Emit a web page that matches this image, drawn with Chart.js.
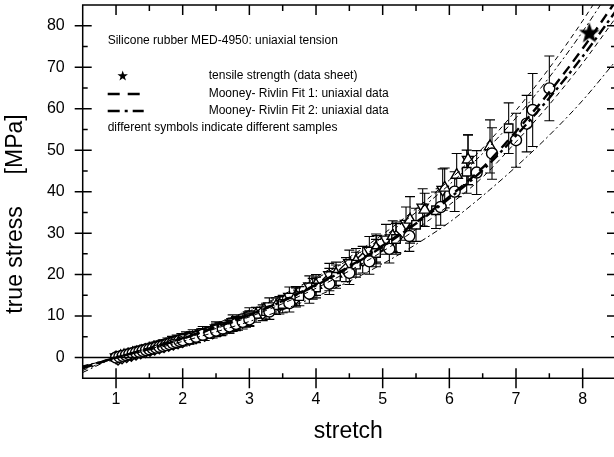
<!DOCTYPE html>
<html>
<head>
<meta charset="utf-8">
<script src="https://cdn.jsdelivr.net/npm/chart.js@4.4.0/dist/chart.umd.min.js"></script>
<style>
  html, body { margin: 0; padding: 0; background: #fff; overflow: hidden; }
  #wrap { width: 614px; height: 457px; overflow: hidden; }
</style>
</head>
<body>
<div id="wrap"><canvas id="stressChart" width="618" height="457"></canvas></div>
<script>
// axis ticks
const stretchTicks = [1, 2, 3, 4, 5, 6, 7, 8];
const stressTicks = [0, 10, 20, 30, 40, 50, 60, 70, 80];

// measured samples (stretch, true stress, error)
const circX = [1.0, 1.05, 1.1, 1.15, 1.2, 1.25, 1.3, 1.35, 1.4, 1.45, 1.5, 1.55, 1.6, 1.65, 1.7, 1.75, 1.8, 1.85, 1.9, 1.95, 2.0, 2.1, 2.2, 2.3, 2.4, 2.5, 2.6, 2.7, 2.8, 2.9, 3.0, 3.3, 3.6, 3.9, 4.2, 4.5, 4.8, 5.1, 5.4, 5.87, 6.08, 6.41, 6.64, 7.0, 7.16, 7.25, 7.5];
const circY = [0.0, 0.2, 0.4, 0.6, 0.8, 1.0, 1.2, 1.4, 1.6, 1.8, 2.0, 2.2, 2.4, 2.6, 2.8, 3.0, 3.25, 3.5, 3.75, 4.0, 4.2, 4.6, 5.0, 5.5, 6.0, 6.5, 7.0, 7.5, 8.1, 8.6, 9.2, 11.1, 13.1, 15.4, 17.8, 20.4, 23.2, 26.2, 29.3, 36.3, 40.0, 44.6, 49.2, 52.4, 56.4, 59.7, 64.9];
const circE = [0.8, 0.8, 0.8, 0.9, 0.9, 0.9, 0.9, 0.9, 1.0, 1.0, 1.0, 1.0, 1.0, 1.1, 1.1, 1.1, 1.1, 1.2, 1.2, 1.2, 1.2, 1.3, 1.3, 1.4, 1.4, 1.5, 1.5, 1.6, 1.6, 1.7, 1.7, 1.9, 2.1, 2.3, 2.6, 2.8, 3.1, 3.4, 3.7, 4.4, 4.8, 5.3, 6.2, 6.5, 6.8, 8.8, 7.8];

const sqX = [1.02, 1.08, 1.14, 1.2, 1.26, 1.32, 1.38, 1.44, 1.5, 1.56, 1.62, 1.68, 1.74, 1.8, 1.86, 1.92, 1.98, 2.05, 2.25, 2.5, 2.75, 3.0, 3.25, 3.5, 3.75, 4.0, 4.3, 4.6, 4.9, 5.2, 5.5, 5.8, 6.26, 6.89];
const sqY = [0.1, 0.4, 0.6, 0.9, 1.1, 1.4, 1.6, 1.8, 2.1, 2.3, 2.6, 2.8, 3.1, 3.4, 3.6, 3.9, 4.2, 4.5, 5.4, 6.6, 7.9, 9.5, 11.2, 12.9, 14.8, 16.9, 19.5, 22.4, 25.2, 28.6, 32.0, 35.5, 44.8, 55.3];
const sqE = [0.8, 0.8, 0.9, 0.9, 0.9, 0.9, 1.0, 1.0, 1.0, 1.0, 1.1, 1.1, 1.1, 1.1, 1.2, 1.2, 1.2, 1.3, 1.3, 1.5, 1.6, 1.8, 1.9, 2.1, 2.3, 2.5, 2.8, 3.0, 3.3, 3.7, 4.0, 4.4, 5.2, 6.1];

const triX = [1.0, 1.07, 1.12, 1.18, 1.25, 1.31, 1.38, 1.44, 1.5, 1.57, 1.65, 1.72, 1.8, 1.87, 1.95, 2.1, 2.3, 2.55, 2.8, 3.1, 3.4, 3.7, 4.0, 4.3, 4.6, 4.9, 5.15, 5.41, 5.63, 5.93, 6.11, 6.28, 6.61];
const triY = [0.0, 0.3, 0.5, 0.7, 1.0, 1.2, 1.5, 1.7, 2.0, 2.3, 2.6, 2.9, 3.3, 3.6, 4.0, 4.7, 5.6, 6.9, 8.3, 10.3, 12.4, 14.8, 17.5, 20.2, 23.2, 26.4, 29.3, 33.2, 35.6, 40.9, 44.0, 47.7, 50.9];
const triE = [0.8, 0.8, 0.8, 0.9, 0.9, 0.9, 0.9, 1.0, 1.0, 1.0, 1.1, 1.1, 1.1, 1.2, 1.2, 1.3, 1.4, 1.5, 1.6, 1.8, 2.0, 2.3, 2.5, 2.8, 3.1, 3.4, 3.7, 5.6, 4.0, 4.8, 5.2, 6.0, 6.4];

const triDnX = [1.0, 1.07, 1.14, 1.21, 1.28, 1.35, 1.42, 1.49, 1.56, 1.63, 1.7, 1.77, 1.84, 1.91, 1.98, 2.05, 2.15, 2.3, 2.5, 2.75, 3.0, 3.3, 3.6, 3.9, 4.2, 4.5, 4.8, 5.05, 5.35, 5.6, 5.9, 6.28];
const triDnY = [0.1, 0.5, 0.8, 1.1, 1.4, 1.7, 2.0, 2.3, 2.6, 2.9, 3.2, 3.5, 3.9, 4.2, 4.5, 4.9, 5.4, 6.1, 7.1, 8.6, 10.2, 12.4, 14.7, 17.2, 19.9, 22.8, 25.8, 28.5, 32.3, 36.2, 40.5, 47.7];
const triDnE = [0.8, 0.8, 0.9, 0.9, 0.9, 1.0, 1.0, 1.0, 1.1, 1.1, 1.1, 1.2, 1.2, 1.2, 1.3, 1.3, 1.3, 1.4, 1.5, 1.7, 1.8, 2.0, 2.3, 2.5, 2.8, 3.1, 3.4, 3.6, 4.0, 4.5, 5.0, 6.0];

const diaX = [1.03, 1.09, 1.16, 1.23, 1.3, 1.37, 1.44, 1.51, 1.58, 1.65, 1.72, 1.79, 1.86, 1.93, 2.0, 2.1, 2.2, 2.33, 2.45, 2.58, 2.7, 2.83, 2.95, 3.2, 3.45, 3.7, 3.95, 4.2, 4.45, 4.7, 4.91, 5.2];
const diaY = [-0.2, 0.1, 0.4, 0.7, 1.0, 1.3, 1.6, 1.9, 2.2, 2.5, 2.8, 3.1, 3.4, 3.7, 4.0, 4.5, 4.9, 5.5, 6.1, 6.8, 7.4, 8.2, 9.0, 10.8, 12.6, 14.5, 16.6, 18.8, 21.2, 23.6, 26.0, 29.0];
const diaE = [0.8, 0.8, 0.8, 0.9, 0.9, 0.9, 1.0, 1.0, 1.0, 1.1, 1.1, 1.1, 1.1, 1.2, 1.2, 1.3, 1.3, 1.4, 1.4, 1.5, 1.5, 1.6, 1.7, 1.9, 2.1, 2.3, 2.5, 2.7, 2.9, 3.2, 3.4, 3.7];

// tensile strength from data sheet
const strengthX = [8.1];
const strengthY = [78.4];

// Mooney-Rivlin fits and their bounds
const fitX = [0.5, 1, 1.5, 2, 2.5, 3, 3.5, 4, 4.5, 5, 5.5, 6, 6.5, 7, 7.5, 8, 8.5];
const fit1 = [-2.6, 0, 2.2, 4.7, 7.4, 10.3, 13.7, 17.6, 22.0, 27.0, 32.6, 38.8, 45.8, 54.5, 64.0, 74.5, 86.0];
const fit1Upper = [-2.1, 0, 2.5, 5.2, 8.2, 11.4, 15.1, 19.4, 24.2, 29.7, 35.9, 42.8, 50.5, 59.6, 69.8, 81.2, 93.8];
const fit1Lower = [-3.1, 0, 2.0, 4.4, 7.0, 9.8, 13.0, 16.7, 20.9, 25.6, 30.9, 36.8, 43.5, 52.0, 61.0, 71.0, 82.0];
const fit2 = [-2.4, 0, 2.1, 4.6, 7.3, 10.2, 13.6, 17.4, 21.8, 26.8, 32.3, 38.4, 45.2, 53.5, 62.6, 72.6, 83.6];
const fit2Upper = [-2.0, 0, 2.4, 5.1, 8.0, 11.2, 14.8, 19.0, 23.7, 29.0, 35.0, 41.7, 49.2, 57.8, 67.6, 78.6, 90.8];
const fit2Lower = [-3.6, 0, 1.8, 3.9, 6.2, 8.7, 11.5, 14.7, 18.4, 22.6, 27.3, 32.6, 39.0, 46.0, 53.6, 62.0, 71.6];

const FONT = "'Liberation Sans', Arial, sans-serif";

const pts = (xs, ys) => xs.map((x, i) => ({ x: x, y: ys[i] }));

function drawStar(g, cx, cy, R) {
  const r = R * 0.4;
  g.beginPath();
  for (let i = 0; i < 10; i++) {
    const rad = i % 2 ? r : R;
    const a = -Math.PI / 2 + i * Math.PI / 5;
    g.lineTo(cx + rad * Math.cos(a), cy + rad * Math.sin(a));
  }
  g.closePath();
  g.fillStyle = "#000";
  g.fill();
}

const starImg = document.createElement("canvas");
starImg.width = 24;
starImg.height = 24;
drawStar(starImg.getContext("2d"), 12, 13, 11);

function sample(label, xs, ys, es, style, radius, rotation) {
  return {
    label: label,
    data: pts(xs, ys),
    errors: es,
    pointStyle: style,
    pointRadius: radius,
    rotation: rotation || 0,
    pointBackgroundColor: "#fff",
    pointBorderColor: "#000",
    pointBorderWidth: 1.4
  };
}

function curve(label, ys, width, dash) {
  return {
    label: label,
    data: pts(fitX, ys),
    showLine: true,
    pointRadius: 0,
    borderColor: "#000",
    borderWidth: width,
    borderDash: dash,
    cubicInterpolationMode: "monotone"
  };
}

// error bars drawn through the chart scales
const errorBars = {
  id: "errorBars",
  beforeDatasetsDraw(chart) {
    const { ctx, chartArea: a, scales: { x, y } } = chart;
    ctx.save();
    ctx.beginPath();
    ctx.rect(a.left, a.top, a.right - a.left, a.bottom - a.top);
    ctx.clip();
    ctx.strokeStyle = "#000";
    ctx.lineWidth = 1.1;
    chart.data.datasets.forEach(ds => {
      if (!ds.errors) return;
      ds.data.forEach((p, i) => {
        const e = ds.errors[i];
        const px = x.getPixelForValue(p.x);
        const top = y.getPixelForValue(p.y + e);
        const bot = y.getPixelForValue(p.y - e);
        ctx.beginPath();
        ctx.moveTo(px, top); ctx.lineTo(px, bot);
        ctx.moveTo(px - 5, top); ctx.lineTo(px + 5, top);
        ctx.moveTo(px - 5, bot); ctx.lineTo(px + 5, bot);
        ctx.stroke();
      });
    });
    ctx.restore();
  }
};

// box, tick marks, zero line, titles and key
const decor = {
  id: "decor",
  afterDraw(chart) {
    const { ctx, chartArea: a, scales: { x, y } } = chart;
    const seg = (x1, y1, x2, y2) => { ctx.moveTo(x1, y1); ctx.lineTo(x2, y2); };
    ctx.save();
    ctx.strokeStyle = "#000";
    ctx.lineWidth = 1.5;
    ctx.beginPath();
    ctx.rect(a.left, a.top, a.right - a.left, a.bottom - a.top);
    const y0 = y.getPixelForValue(0);
    seg(a.left, y0, a.right, y0);
    for (let v = 0.5; v <= 8.5; v += 0.5) {
      const px = x.getPixelForValue(v);
      const major = Number.isInteger(v);
      seg(px, a.bottom - (major ? 10 : 5), px, a.bottom + (major ? 10 : 0));
      seg(px, a.top, px, a.top + (major ? 10 : 6));
    }
    for (let v = -5; v <= 85; v += 5) {
      const py = y.getPixelForValue(v);
      const major = v % 10 === 0;
      seg(a.left - (major ? 8 : 0), py, a.left + (major ? 9 : 5), py);
      seg(a.right, py, a.right - (major ? 9 : 5), py);
    }
    ctx.stroke();

    // axis titles
    ctx.fillStyle = "#000";
    ctx.font = "23px " + FONT;
    ctx.textAlign = "center";
    ctx.textBaseline = "middle";
    ctx.fillText("stretch", (a.left + 614) / 2, 432);
    ctx.save();
    ctx.translate(16, 214);
    ctx.rotate(-Math.PI / 2);
    ctx.fillText("true stress     [MPa]", 0, 0);
    ctx.restore();

    // key
    const lx = a.left + 25;
    const tx = a.left + 126;
    ctx.font = "12px " + FONT;
    ctx.textAlign = "left";
    ctx.fillText("Silicone rubber MED-4950: uniaxial tension", lx, a.top + 36);
    drawStar(ctx, lx + 15, a.top + 71, 5.5);
    ctx.fillText("tensile strength (data sheet)", tx, a.top + 71);
    ctx.fillText("Mooney- Rivlin Fit 1: uniaxial data", tx, a.top + 89);
    ctx.fillText("Mooney- Rivlin Fit 2: uniaxial data", tx, a.top + 106);
    ctx.fillText("different symbols indicate different samples", lx, a.top + 123);
    ctx.lineWidth = 2.5;
    ctx.setLineDash([12, 8]);
    ctx.beginPath();
    seg(lx, a.top + 89, lx + 33, a.top + 89);
    ctx.stroke();
    ctx.setLineDash([12, 5, 3, 5]);
    ctx.beginPath();
    seg(lx, a.top + 106, lx + 36, a.top + 106);
    ctx.stroke();
    ctx.restore();
  }
};

const datasets = [
  curve("Fit 1", fit1, 2.4, [10, 6]),
  curve("Fit 2", fit2, 2.4, [10, 4, 3, 4]),
  curve("Fit 1 upper", fit1Upper, 1, [5, 4]),
  curve("Fit 1 lower", fit1Lower, 1, [5, 4]),
  curve("Fit 2 upper", fit2Upper, 1, [6, 3, 2, 3]),
  curve("Fit 2 lower", fit2Lower, 1, [6, 3, 2, 3]),
  { label: "tensile strength", data: pts(strengthX, strengthY), pointStyle: starImg },
  sample("circles", circX, circY, circE, "circle", 5.5),
  sample("squares", sqX, sqY, sqE, "rect", 6),
  sample("triangles", triX, triY, triE, "triangle", 6.5),
  sample("triangles down", triDnX, triDnY, triDnE, "triangle", 6.5, 180),
  sample("diamonds", diaX, diaY, diaE, "rectRot", 6.5)
];

const tickFont = { family: FONT, size: 16 };

new Chart(document.getElementById("stressChart"), {
  type: "scatter",
  data: { datasets: datasets },
  options: {
    responsive: false,
    animation: false,
    events: [],
    layout: { autoPadding: false, padding: { top: 5, right: 2, left: 0, bottom: 0 } },
    plugins: { legend: { display: false }, tooltip: { enabled: false } },
    scales: {
      x: {
        type: "linear",
        min: 0.5,
        max: 8.5,
        afterBuildTicks: s => { s.ticks = stretchTicks.map(v => ({ value: v })); },
        afterFit: s => { s.height = 78.7; s.paddingLeft = 0; s.paddingRight = 0; },
        grid: { display: false, drawTicks: false },
        border: { display: false },
        ticks: { font: tickFont, color: "#000", padding: 12, maxRotation: 0 }
      },
      y: {
        type: "linear",
        min: -5,
        max: 85,
        afterBuildTicks: s => { s.ticks = stressTicks.map(v => ({ value: v })); },
        afterFit: s => { s.width = 82.7; s.paddingTop = 0; s.paddingBottom = 0; },
        grid: { display: false, drawTicks: false },
        border: { display: false },
        ticks: { font: tickFont, color: "#000", padding: 18 }
      }
    }
  },
  plugins: [errorBars, decor]
});
</script>
</body>
</html>
